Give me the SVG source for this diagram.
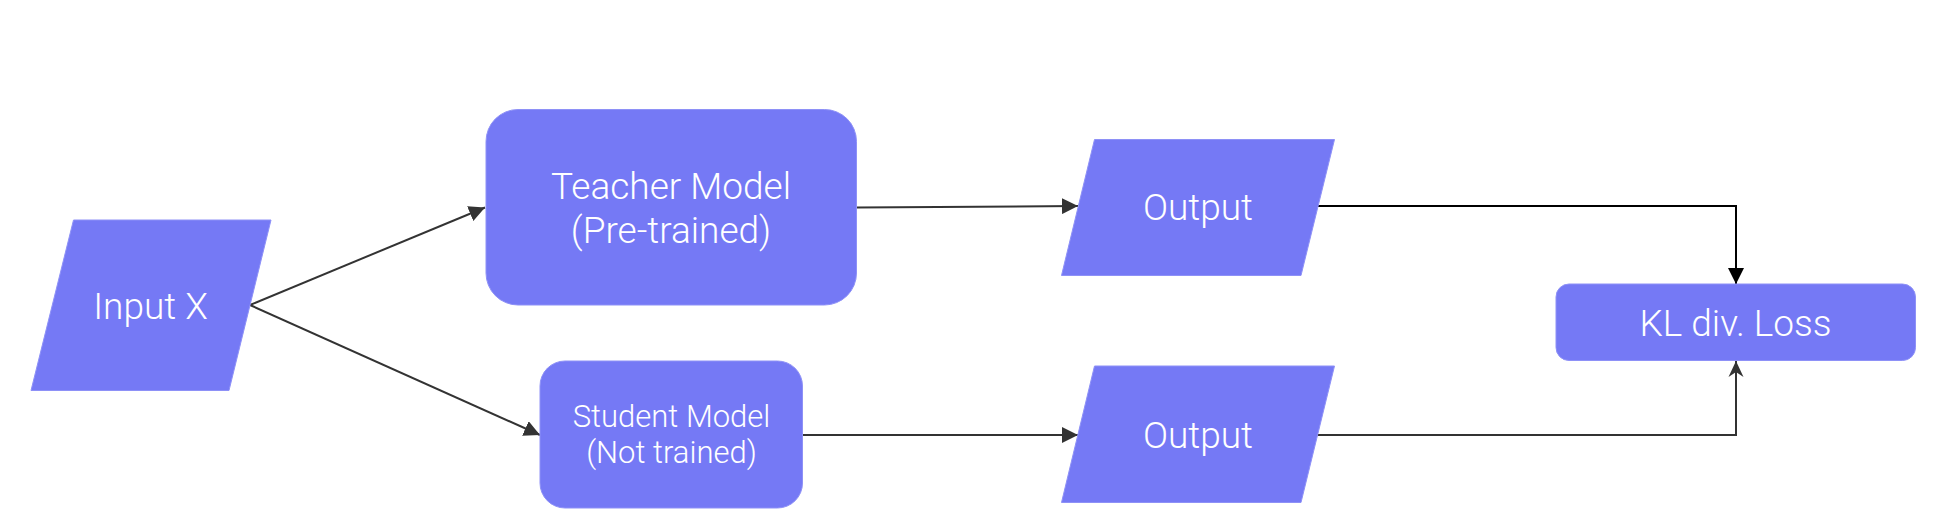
<svg xmlns="http://www.w3.org/2000/svg" width="1950" height="530" viewBox="0 0 1950 530">
  <style>
    .node { fill: #7579F5; stroke: #8E91F7; stroke-width: 1; }
    .lbl { fill: #FFFFFF; font-family: Roboto, "Noto Sans", sans-serif; font-weight: 300; text-anchor: middle; }
    .big { font-size: 37px; }
    .small { font-size: 31px; }
    .edge { fill: none; stroke: #333333; stroke-width: 2; }
    .edge-black { fill: none; stroke: #000000; stroke-width: 2; }
  </style>
  <defs>
    <marker id="arrowGrey" viewBox="0 0 16 16" refX="16" refY="8" markerWidth="16" markerHeight="16" markerUnits="userSpaceOnUse" orient="auto">
      <path d="M0,0 L16,8 L0,16 z" fill="#333333"/>
    </marker>
    <marker id="arrowBlack" viewBox="0 0 16 16" refX="16" refY="8" markerWidth="16" markerHeight="16" markerUnits="userSpaceOnUse" orient="auto">
      <path d="M0,0 L16,8 L0,16 z" fill="#000000"/>
    </marker>
    <marker id="arrowNotch" viewBox="0 0 16 16" refX="16" refY="8" markerWidth="16" markerHeight="16" markerUnits="userSpaceOnUse" orient="auto">
      <path d="M0,0.5 L16,8 L0,15.5 L5,8 z" fill="#333333"/>
    </marker>
  </defs>

  <g id="connectors">
    <path class="edge" d="M250,305 L485,207.5" marker-end="url(#arrowGrey)"/>
    <path class="edge" d="M250,305 L540,435" marker-end="url(#arrowGrey)"/>
    <path class="edge" d="M857,207.5 L1078,206" marker-end="url(#arrowGrey)"/>
    <path class="edge" d="M803,435 L1078,435" marker-end="url(#arrowGrey)"/>
    <path class="edge-black" d="M1317,206 L1736,206 L1736,284" marker-end="url(#arrowBlack)"/>
    <path class="edge" d="M1317,435 L1736,435 L1736,361" marker-end="url(#arrowNotch)"/>
  </g>

  <g id="input-x">
    <polygon class="node" points="73.5,220 271,220 229,390.5 31,390.5"/>
    <text class="lbl big" x="150.5" y="319">Input X</text>
  </g>

  <g id="teacher-model">
    <rect class="node" x="486" y="109.5" width="370.5" height="195.5" rx="32" ry="32"/>
    <text class="lbl big" x="671" y="199">Teacher Model</text>
    <text class="lbl big" x="671" y="243">(Pre-trained)</text>
  </g>

  <g id="student-model">
    <rect class="node" x="540" y="361" width="262.5" height="147" rx="25" ry="25"/>
    <text class="lbl small" x="671.5" y="426.5">Student Model</text>
    <text class="lbl small" x="671.5" y="463">(Not trained)</text>
  </g>

  <g id="teacher-output">
    <polygon class="node" points="1094.5,139.5 1334.5,139.5 1301,275.5 1061.5,275.5"/>
    <text class="lbl big" x="1198" y="220">Output</text>
  </g>

  <g id="student-output">
    <polygon class="node" points="1094.5,366 1334.5,366 1301,502.5 1061.5,502.5"/>
    <text class="lbl big" x="1198" y="447.5">Output</text>
  </g>

  <g id="kl-loss">
    <rect class="node" x="1556" y="284" width="359.5" height="76.5" rx="13" ry="13"/>
    <text class="lbl big" x="1735.5" y="336">KL div. Loss</text>
  </g>
</svg>
